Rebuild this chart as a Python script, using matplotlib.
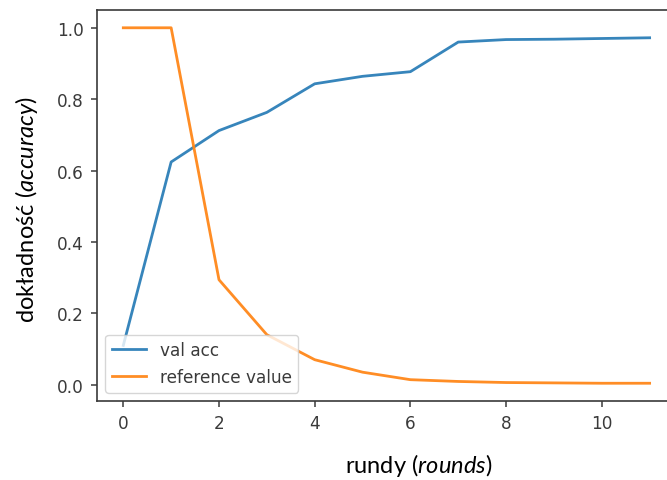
## accuracy vs. rounds, with the reference curve
from matplotlib import pyplot as plt

rounds = list(range(12))
val_acc = [0.11, 0.624, 0.712, 0.763, 0.843, 0.864, 0.877, 0.960, 0.967, 0.968, 0.970, 0.972]
reference_value = [1.0, 1.0, 0.294, 0.14, 0.070, 0.035, 0.014, 0.009, 0.006, 0.005, 0.004, 0.004]

# labels use a humanist font, italic parts through mathtext
plt.rcParams['mathtext.fontset'] = 'custom'
plt.rcParams['mathtext.rm'] = 'Lato'
plt.rcParams['mathtext.it'] = 'Lato:italic'

fig = plt.figure(figsize=(6.67, 4.81), dpi=100)
# right spine sits just past the figure edge
ax = fig.add_axes([0.1454, 0.1642, 0.868, 0.8129])

ax.plot(rounds, val_acc, color='#2c7fb8', linewidth=2.0, label='val acc', alpha=0.95)
ax.plot(rounds, reference_value, color='#ff8719', linewidth=2.0, label='reference value', alpha=0.95)

tick_col = '#3a3a3a'
for s in ax.spines.values():
    s.set_linewidth(1.2)
    s.set_color(tick_col)
ax.tick_params(labelsize=12.2, length=4.5, width=1.1, color=tick_col, labelcolor=tick_col, pad=5)
ax.set_xticks([0, 2, 4, 6, 8, 10])
ax.set_yticks([0.0, 0.2, 0.4, 0.6, 0.8, 1.0])

ax.legend(loc='lower left', fontsize=12.2, labelcolor=tick_col)

fig.text(0.627, 0.017, 'rundy ($rounds$)', fontsize=17, family='Lato', ha='center', va='baseline')
fig.text(0.040, 0.565, 'dokładność ($accuracy$)', fontsize=17, family='Lato',
         rotation=90, ha='center', va='center')

plt.savefig('out.png', dpi=100)
